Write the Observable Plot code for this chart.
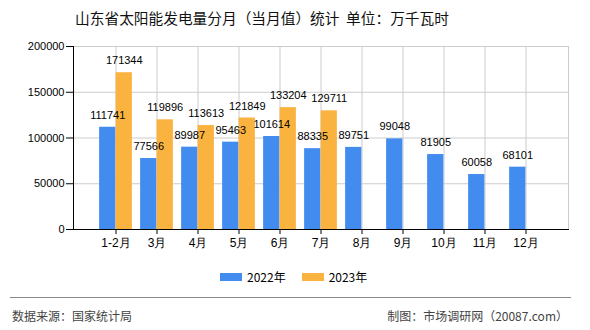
<!DOCTYPE html>
<html><head><meta charset="utf-8">
<script src="https://cdn.jsdelivr.net/npm/d3@7"></script>
<script src="https://cdn.jsdelivr.net/npm/@observablehq/plot@0.6"></script>
<style>
body{margin:0;background:#fff;font-family:"Noto Sans CJK SC","DejaVu Sans",sans-serif;}
#wrap{position:relative;width:590px;height:330px;overflow:hidden;}
#title{position:absolute;left:0;top:8px;width:524px;text-align:center;font-size:14.7px;color:#111;line-height:20px;}
#chart{position:absolute;left:0;top:36px;}
#legend{position:absolute;top:268px;left:220px;font-size:12px;display:flex;align-items:center;color:#000;}
.sw{display:inline-block;width:22px;height:8px;margin-right:5px;}
#sep{position:absolute;left:10px;top:297px;width:561px;height:0;border-top:1px solid #888;}
#src{position:absolute;left:12px;top:307px;font-size:12px;color:#444;line-height:18px;}
#mk{position:absolute;right:22px;top:307px;font-size:12px;color:#444;line-height:18px;}
</style></head>
<body><div id="wrap">
<div id="title">山东省太阳能发电量分月（当月值）统计&nbsp;&nbsp;单位：万千瓦时</div>
<div id="chart"></div>
<div id="legend"><span class="sw" style="background:#428bef"></span><span style="margin-right:16px">2022年</span><span class="sw" style="background:#fbb340"></span><span>2023年</span></div>
<div id="sep"></div>
<div id="src">数据来源：国家统计局</div>
<div id="mk">制图：市场调研网（20087.com）</div>
</div>
<script>
const categories = ["1-2月","3月","4月","5月","6月","7月","8月","9月","10月","11月","12月"];
const values2022 = [111741,77566,89987,95463,101614,88335,89751,99048,81905,60058,68101];
const values2023 = [171344,119896,113613,121849,133204,129711];
const years = ["2022年","2023年"];
const yTicks = [0,50000,100000,150000,200000];
const colors = ["#428bef","#fbb340"];

const rows2022 = values2022.map((v,i)=>({cat:categories[i], value:v, year:years[0]}));
const rows2023 = values2023.map((v,i)=>({cat:categories[i], value:v, year:years[1]}));

const bw = 41.25, half = 8.25, inset = (bw - 16.5)/2;
const font = "'Liberation Sans','DejaVu Sans',sans-serif";

const chart = Plot.plot({
  width:590, height:224,
  marginTop:10, marginLeft:73, marginRight:22, marginBottom:31,
  style:{fontFamily:font, fontSize:"11px", color:"#000", background:"transparent", overflow:"visible"},
  x:{domain:categories, paddingInner:0, paddingOuter:0.5, label:null},
  y:{domain:[0,200000], label:null},
  marks:[
    Plot.gridY(yTicks, {stroke:"#ccc", strokeOpacity:1}),
    Plot.gridX(categories, {stroke:"#ccc", strokeOpacity:1}),
    Plot.frame({anchor:"right", stroke:"#ccc"}),
    Plot.barY(rows2022, {x:"cat", y:"value", fill:colors[0], dx:-half, insetLeft:inset, insetRight:inset}),
    Plot.barY(rows2023, {x:"cat", y:"value", fill:colors[1], dx:half, insetLeft:inset, insetRight:inset}),
    Plot.text(rows2022, {x:"cat", y:"value", text:d=>String(d.value), dx:-half, dy:-12, fill:"#000", fontSize:11}),
    Plot.text(rows2023, {x:"cat", y:"value", text:d=>String(d.value), dx:half, dy:-12, fill:"#000", fontSize:11}),
    Plot.axisY({ticks:yTicks, tickSize:7, tickPadding:2, tickFormat:d=>String(d), label:null, fontSize:11}),
    Plot.axisX({tickSize:5, tickPadding:4, label:null, fontSize:12}),
    Plot.frame({anchor:"left", stroke:"#000"}),
    Plot.frame({anchor:"bottom", stroke:"#000"})
  ]
});
document.getElementById("chart").appendChild(chart);
</script>
</body></html>
